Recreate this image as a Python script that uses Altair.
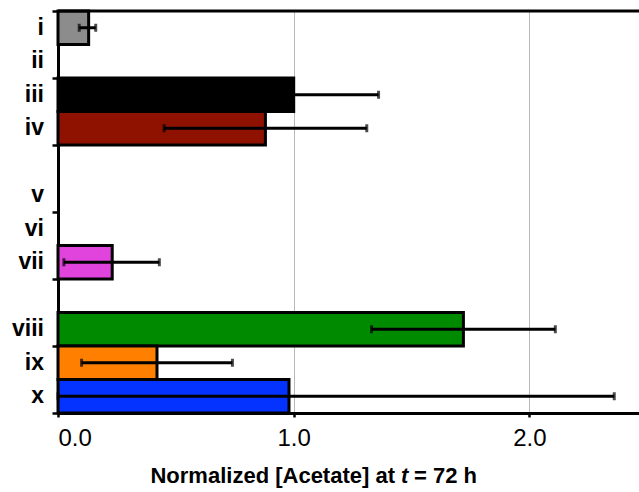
import altair as alt
import pandas as pd

# Row labels and their slot positions (slots 4 and 8 are empty gaps)
label_names = ["i", "ii", "iii", "iv", "v", "vi", "vii", "viii", "ix", "x"]
label_slots = [0, 1, 2, 3, 5, 6, 7, 9, 10, 11]
n_slots = 12

bar_cats = ["i", "iii", "iv", "vii", "viii", "ix", "x"]
bar_slots = [0, 2, 3, 7, 9, 10, 11]
bar_vals = [0.13, 1.00, 0.88, 0.23, 1.72, 0.42, 0.98]
err_lo = [0.09, 0.64, 0.45, 0.025, 1.33, 0.10, 0.00]
err_hi = [0.16, 1.36, 1.31, 0.43, 2.11, 0.74, 2.36]
bar_colors = ["#8c8c8c", "#000000", "#8F1200", "#E143DD", "#008A00", "#FF8000", "#0433FF"]

x_ticks = [0, 1, 2]
title_parts = ["Normalized [Acetate] at", "t", "= 72 h"]

df = pd.DataFrame({
    "cat": bar_cats,
    "slot": bar_slots,
    "val": bar_vals,
    "lo": err_lo,
    "hi": err_hi,
    "fillcolor": bar_colors,
})
df_lab = pd.DataFrame({"name": label_names, "slot": label_slots})

W, H = 581, 402
FONT = "Liberation Sans"

yscale = alt.Scale(domain=[n_slots, 0], nice=False, zero=False)
xscale = alt.Scale(domain=[0, 2.465], nice=False)

yaxis = alt.Axis(
    title=None,
    values=list(range(n_slots + 1)),
    labels=False,
    grid=False,
    tickSize=6,
    tickWidth=2.5,
    tickColor="black",
    domainColor="black",
    domainWidth=3,
)

xaxis = alt.Axis(
    title=None,
    values=x_ticks,
    format=".1f",
    grid=True,
    gridColor="#b8b8b8",
    gridWidth=1,
    labelFont=FONT,
    labelFontSize=24,
    labelColor="black",
    labelBaseline="alphabetic",
    labelPadding=28,
    tickSize=4,
    tickWidth=2.5,
    tickColor="black",
    domainColor="black",
    domainWidth=3,
)

base = alt.Chart(df).transform_calculate(
    top="datum.slot + 1", mid="datum.slot + 0.5"
)

bars = base.mark_bar(stroke="black", strokeWidth=3).encode(
    x=alt.X("val:Q", scale=xscale, axis=xaxis),
    x2=alt.datum(0),
    y=alt.Y("slot:Q", scale=yscale, axis=yaxis),
    y2="top:Q",
    fill=alt.Fill("fillcolor:N", scale=None, legend=None),
)

err_line = base.mark_rule(color="black", strokeWidth=3).encode(
    x=alt.X("lo:Q", scale=xscale),
    x2="hi:Q",
    y=alt.Y("mid:Q", scale=yscale),
)

cap_lo = base.mark_tick(color="black", thickness=3, size=8, orient="vertical").encode(
    x=alt.X("lo:Q", scale=xscale),
    y=alt.Y("mid:Q", scale=yscale),
)
cap_hi = base.mark_tick(color="black", thickness=3, size=8, orient="vertical").encode(
    x=alt.X("hi:Q", scale=xscale),
    y=alt.Y("mid:Q", scale=yscale),
)

labels = alt.Chart(df_lab).transform_calculate(mid="datum.slot + 0.5").mark_text(
    align="right", baseline="middle", font=FONT, fontSize=23, fontWeight="bold", color="black", dx=-14
).encode(
    x=alt.value(0),
    y=alt.Y("mid:Q", scale=yscale),
    text="name:N",
)

top_line = alt.Chart(pd.DataFrame({"a": [0]})).mark_rule(color="black", strokeWidth=3).encode(
    y=alt.value(0), x=alt.value(0), x2=alt.value(W)
)

# Axis title in three pieces so that "t" can be italic
TY = H + 70
TX = 337
t_dummy = pd.DataFrame({"a": [0]})
title1 = alt.Chart(t_dummy).mark_text(
    align="right", baseline="alphabetic", font=FONT, fontSize=22, fontWeight="bold", color="black",
    text=title_parts[0],
).encode(x=alt.value(TX), y=alt.value(TY))
title2 = alt.Chart(t_dummy).mark_text(
    align="left", baseline="alphabetic", font=FONT, fontSize=22, fontWeight="bold", fontStyle="italic",
    color="black", text=title_parts[1],
).encode(x=alt.value(TX + 6), y=alt.value(TY))
title3 = alt.Chart(t_dummy).mark_text(
    align="left", baseline="alphabetic", font=FONT, fontSize=22, fontWeight="bold", color="black",
    text=title_parts[2],
).encode(x=alt.value(TX + 19), y=alt.value(TY))

chart = alt.layer(bars, err_line, cap_lo, cap_hi, labels, top_line, title1, title2, title3).properties(
    width=W,
    height=H,
    autosize=alt.AutoSizeParams(type="none"),
    padding={"left": 58, "top": 11, "right": 0, "bottom": 79},
).configure_view(stroke=None).configure(background="white")

chart.save("out.html", embed_options={"renderer": "svg", "actions": False})
